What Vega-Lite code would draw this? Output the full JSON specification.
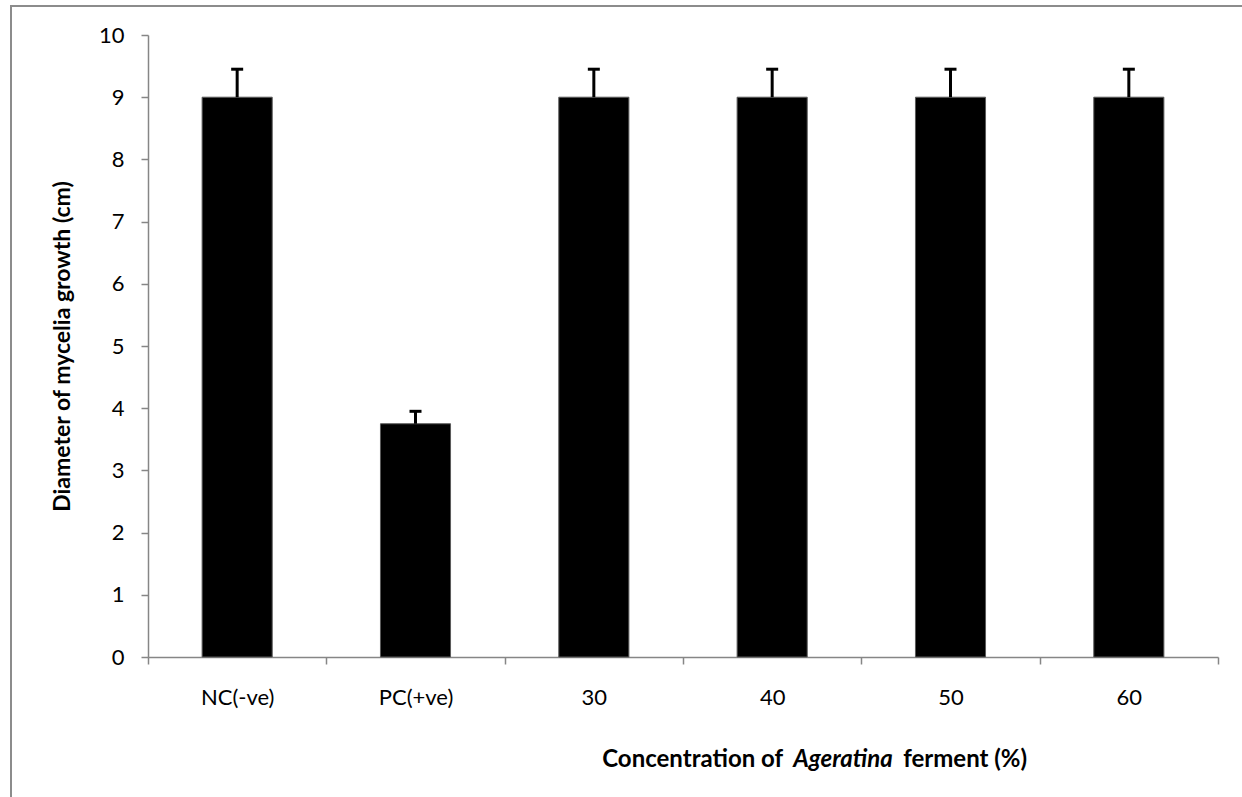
{
  "$schema": "https://vega.github.io/schema/vega-lite/v6.json",
  "width": 1070,
  "height": 622,
  "autosize": {"type": "none"},
  "padding": {"left": 148, "top": 35, "right": 24, "bottom": 140},
  "background": "white",
  "config": {
    "view": {"stroke": null},
    "font": "Lato",
    "axis": {
      "domainColor": "#868686",
      "tickColor": "#868686",
      "domainWidth": 1.5,
      "tickWidth": 1.5,
      "tickSize": 7,
      "labelColor": "#000000",
      "labelFont": "Lato",
      "labelFontSize": 22,
      "titleColor": "#000000",
      "titleFont": "Lato",
      "titleFontWeight": "bold",
      "grid": false
    }
  },
  "datasets": {
    "growth": [
      {"group": "NC(-ve)", "diameter": 9.0, "upper": 9.45},
      {"group": "PC(+ve)", "diameter": 3.75, "upper": 3.95},
      {"group": "30", "diameter": 9.0, "upper": 9.45},
      {"group": "40", "diameter": 9.0, "upper": 9.45},
      {"group": "50", "diameter": 9.0, "upper": 9.45},
      {"group": "60", "diameter": 9.0, "upper": 9.45}
    ]
  },
  "layer": [
    {
      "data": {"values": [{}]},
      "mark": {"type": "rect", "fill": null, "stroke": "#8c8c8c", "strokeWidth": 2},
      "encoding": {
        "x": {"value": -137},
        "x2": {"value": 1200},
        "y": {"value": -29},
        "y2": {"value": 900}
      }
    },
    {
      "data": {"name": "growth"},
      "mark": {"type": "bar", "color": "#000000", "stroke": "#5a5a5a", "strokeWidth": 1, "width": {"band": 0.393}},
      "encoding": {
        "x": {
          "field": "group",
          "type": "nominal",
          "sort": null,
          "scale": {"paddingInner": 0, "paddingOuter": 0},
          "axis": {"title": null, "labelAngle": 0, "labelPadding": 23, "tickBand": "extent"}
        },
        "y": {
          "field": "diameter",
          "type": "quantitative",
          "scale": {"domain": [0, 10], "nice": false},
          "axis": {
            "title": "Diameter of mycelia growth (cm)",
            "titleFontSize": 23,
            "titlePadding": 24,
            "values": [0, 1, 2, 3, 4, 5, 6, 7, 8, 9, 10],
            "format": "d",
            "labelPadding": 17
          }
        }
      }
    },
    {
      "data": {"name": "growth"},
      "mark": {"type": "rule", "color": "#000000", "strokeWidth": 3},
      "encoding": {
        "x": {"field": "group", "type": "nominal", "sort": null},
        "y": {"field": "diameter", "type": "quantitative"},
        "y2": {"field": "upper"}
      }
    },
    {
      "data": {"name": "growth"},
      "mark": {"type": "tick", "orient": "horizontal", "size": 12, "thickness": 3, "color": "#000000", "opacity": 1},
      "encoding": {
        "x": {"field": "group", "type": "nominal", "sort": null},
        "y": {"field": "upper", "type": "quantitative"}
      }
    },
    {
      "data": {"values": [{}]},
      "mark": {"type": "text", "text": "Concentration of", "align": "right", "baseline": "middle", "fontSize": 24, "fontWeight": "bold", "dx": 11},
      "encoding": {
        "x": {"datum": "40", "type": "nominal"},
        "y": {"datum": -1.66, "type": "quantitative"}
      }
    },
    {
      "data": {"values": [{}]},
      "mark": {"type": "text", "text": "Ageratina", "align": "left", "baseline": "middle", "fontSize": 24, "fontWeight": "bold", "fontStyle": "italic", "dx": 21},
      "encoding": {
        "x": {"datum": "40", "type": "nominal"},
        "y": {"datum": -1.66, "type": "quantitative"}
      }
    },
    {
      "data": {"values": [{}]},
      "mark": {"type": "text", "text": "ferment (%)", "align": "left", "baseline": "middle", "fontSize": 24, "fontWeight": "bold", "dx": 131},
      "encoding": {
        "x": {"datum": "40", "type": "nominal"},
        "y": {"datum": -1.66, "type": "quantitative"}
      }
    }
  ]
}
